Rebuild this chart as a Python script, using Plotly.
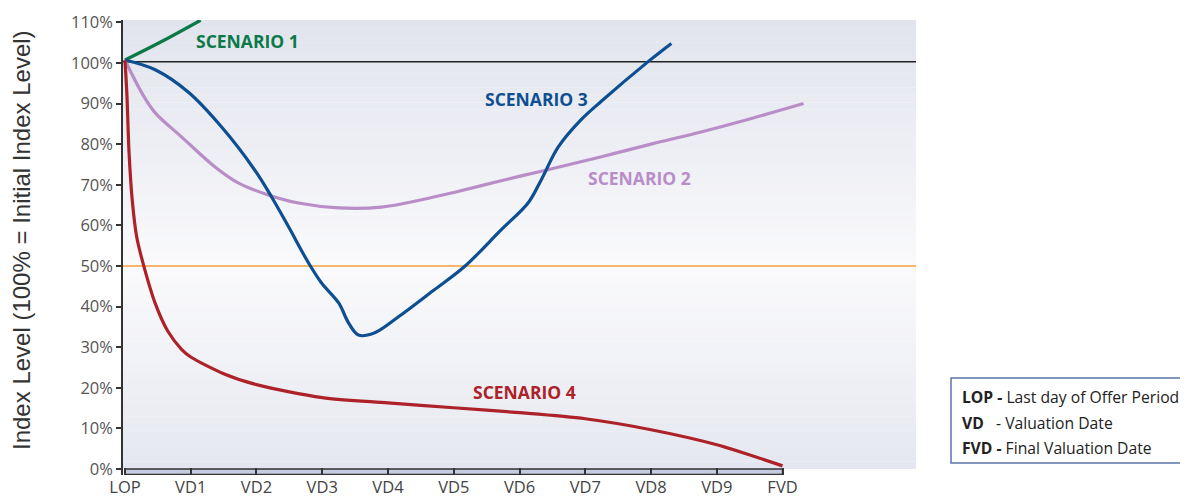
import plotly.graph_objects as go

# ---------------- data ----------------
cat_pos = list(range(11))
cat_labels = ["LOP", "VD1", "VD2", "VD3", "VD4", "VD5", "VD6", "VD7", "VD8", "VD9", "FVD"]

s1_x = [0.0, 0.55, 1.15]
s1_y = [100.7, 105.2, 110.5]

s2_x = [0.0, 0.26, 0.46, 0.86, 1.37, 1.73, 2.18, 2.64, 3.25, 3.9, 4.51, 5.0, 5.72, 6.43, 7.2, 8.0, 8.76, 9.5, 10.32]
s2_y = [100.7, 92.5, 87.7, 81.8, 74.4, 70.4, 67.5, 65.5, 64.3, 64.5, 66.3, 68.1, 71.0, 73.7, 76.7, 80.0, 83.0, 86.2, 90.0]

s3_x = [0.0, 0.46, 0.97, 1.47, 1.97, 2.23, 2.49, 2.79, 2.99, 3.25, 3.40, 3.55, 3.79, 4.16, 4.70, 5.16, 5.72, 6.13, 6.33, 6.59, 6.93, 7.24, 7.97, 8.31]
s3_y = [100.7, 98.3, 92.7, 84.2, 73.7, 67.0, 59.6, 50.8, 45.8, 40.9, 36.0, 33.0, 33.5, 37.5, 44.1, 49.8, 58.9, 65.5, 71.2, 79.3, 85.9, 90.5, 100.5, 104.8]

s4_x = [0.0, 0.03, 0.06, 0.11, 0.18, 0.29, 0.46, 0.65, 0.86, 1.0, 1.5, 2.0, 3.0, 4.0, 5.0, 6.0, 7.0, 8.0, 9.0, 10.0]
s4_y = [100.7, 92.0, 78.6, 66.3, 57.0, 49.8, 40.8, 34.0, 29.5, 27.6, 23.5, 20.8, 17.6, 16.3, 15.1, 13.9, 12.4, 9.7, 6.0, 0.8]

y_ticks = list(range(0, 111, 10))
initial_level = 100.3
barrier_level = 50.0

scenario_names = ["SCENARIO 1", "SCENARIO 2", "SCENARIO 3", "SCENARIO 4"]
label_x = [1.87, 7.82, 6.26, 6.08]
label_y = [105.4, 71.7, 91.0, 18.9]

legend_lines = [
    "<b>LOP -</b> Last day of Offer Period",
    "<b>VD</b>   - Valuation Date",
    "<b>FVD -</b> Final Valuation Date",
]

# ---------------- styling ----------------
colors = ["#0b7a48", "#b88dc8", "#0d4f92", "#ad2228"]
smooth = [1.0, 1.0, 1.0, 0.8]
FONT = "Open Sans"

X_MIN, X_MAX = -0.03, 12.03
Y_MIN, Y_MAX = -1.45, 110.56

fig = go.Figure()
for xs, ys, c, s in zip([s1_x, s2_x, s3_x, s4_x], [s1_y, s2_y, s3_y, s4_y], colors, smooth):
    fig.add_trace(go.Scatter(x=xs, y=ys, mode="lines",
                             line=dict(color=c, width=3.2, shape="spline", smoothing=s),
                             showlegend=False, hoverinfo="skip"))

shapes = []
# background gradient (0% to top)
stops = [(0.0, (228, 231, 239)), (25.0, (240, 241, 246)), (50.0, (250, 250, 252)),
         (75.0, (239, 240, 245)), (Y_MAX, (225, 228, 237))]
def col_at(v):
    for (a, ca), (b, cb) in zip(stops[:-1], stops[1:]):
        if a <= v <= b:
            t = (v - a) / (b - a)
            return tuple(int(round(ca[i] + (cb[i] - ca[i]) * t)) for i in range(3))
    return stops[-1][1]
n = 60
for i in range(n):
    y0 = Y_MAX * i / n
    y1 = Y_MAX * (i + 1) / n + 0.05
    c = col_at((y0 + y1) / 2)
    shapes.append(dict(type="rect", xref="paper", x0=0, x1=1, yref="y", y0=y0, y1=min(y1, Y_MAX),
                       fillcolor="rgb(%d,%d,%d)" % c, line=dict(width=0), layer="below"))
# reference lines
shapes.append(dict(type="line", xref="paper", x0=0, x1=1, yref="y", y0=initial_level, y1=initial_level,
                   line=dict(color="#222222", width=1.5), layer="below"))
shapes.append(dict(type="line", xref="paper", x0=0, x1=1, yref="y", y0=barrier_level, y1=barrier_level,
                   line=dict(color="#f5a03a", width=1.6), layer="below"))
# category band
shapes.append(dict(type="rect", xref="x", x0=cat_pos[0], x1=cat_pos[-1], yref="y", y0=Y_MIN + 0.15, y1=0,
                   fillcolor="#c6cce0", line=dict(color="#333333", width=1.5), layer="below"))
# legend box (paper coords; page has 8px body margin)
def px_x(p): return (p - 123) / 793.0
def px_y(p): return (475 - p) / 455.0
shapes.append(dict(type="rect", xref="paper", yref="paper", x0=px_x(951), x1=px_x(1195),
                   y0=px_y(463), y1=px_y(378), line=dict(color="#5a76a8", width=1.5),
                   fillcolor="white"))
fig.update_layout(shapes=shapes)

annotations = []
for name, lx, ly, c in zip(scenario_names, label_x, label_y, colors):
    annotations.append(dict(x=lx, y=ly, xref="x", yref="y", text="<b>%s</b>" % name, showarrow=False,
                            font=dict(family=FONT, size=17.5, color=c), xanchor="center", yanchor="middle"))
for i, t in enumerate(legend_lines):
    annotations.append(dict(x=px_x(960), y=px_y(397 + 25.5 * i), xref="paper", yref="paper", text=t,
                            showarrow=False, xanchor="left", yanchor="middle",
                            font=dict(family=FONT, size=15.7, color="#222222")))
annotations.append(dict(x=px_x(22), y=px_y(240), xref="paper", yref="paper",
                        text="Index Level (100% = Initial Index Level)", textangle=-90, showarrow=False,
                        xanchor="center", yanchor="middle",
                        font=dict(family="Liberation Sans, Arial", size=24, color="#333333")))
fig.update_layout(annotations=annotations)

fig.update_xaxes(range=[X_MIN, X_MAX], tickvals=cat_pos, ticktext=cat_labels, ticks="inside",
                 ticklen=7, tickwidth=1.5, tickcolor="#333333", showgrid=False, zeroline=False,
                 showline=False, automargin=False, ticklabelstandoff=0,
                 tickfont=dict(family=FONT, size=16.5, color="#444444"))
fig.update_yaxes(range=[Y_MIN, Y_MAX], tickvals=y_ticks, ticktext=["%d%%" % v for v in y_ticks],
                 ticks="outside", ticklen=5, tickwidth=1.5, tickcolor="#333333",
                 showline=True, linecolor="#333333", linewidth=1.5, showgrid=False, zeroline=False,
                 automargin=False, tickfont=dict(family=FONT, size=16.5, color="#555555"))

fig.update_layout(width=1180, height=490, margin=dict(l=115, r=272, t=12, b=23),
                  plot_bgcolor="white", paper_bgcolor="white", showlegend=False)

fig.write_html("out.html")
